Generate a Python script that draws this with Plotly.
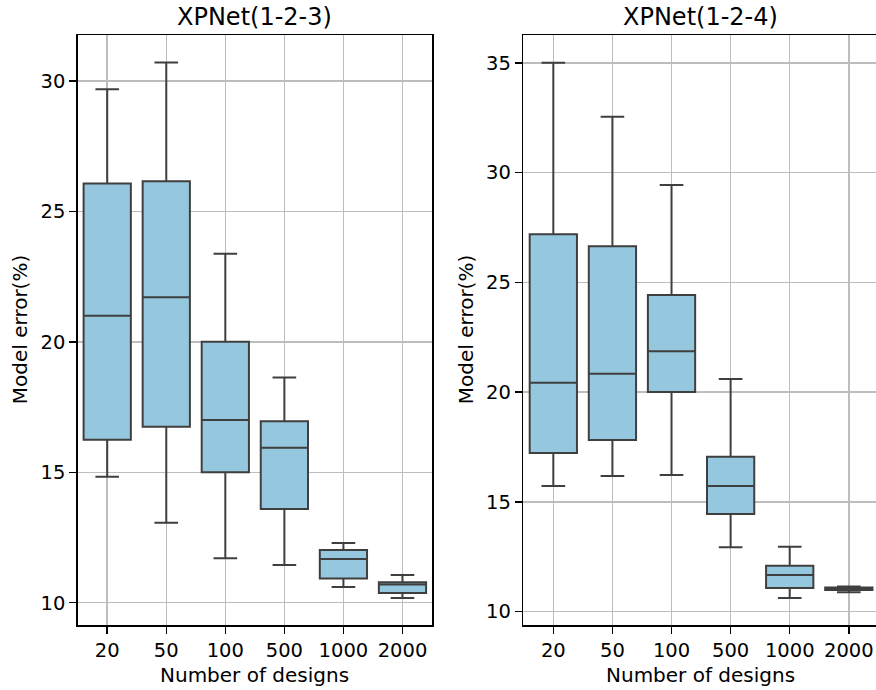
import plotly.graph_objects as go

categories = ["20", "50", "100", "500", "1000", "2000"]

# XPNet(1-2-3)
a_lower = [14.83, 13.07, 11.70, 11.45, 10.60, 10.18]
a_q1 = [16.25, 16.75, 15.00, 13.59, 10.93, 10.37]
a_median = [21.00, 21.71, 17.00, 15.94, 11.68, 10.70]
a_q3 = [26.07, 26.16, 20.00, 16.96, 12.02, 10.78]
a_upper = [29.69, 30.71, 23.38, 18.63, 12.29, 11.06]

# XPNet(1-2-4)
b_lower = [15.72, 16.18, 16.22, 12.93, 10.62, 10.88]
b_q1 = [17.23, 17.82, 20.00, 14.45, 11.07, 10.98]
b_median = [20.43, 20.84, 21.86, 15.72, 11.67, 11.04]
b_q3 = [27.19, 26.64, 24.42, 17.06, 12.09, 11.10]
b_upper = [35.00, 32.54, 29.43, 20.60, 12.96, 11.14]

titles = ["XPNet(1-2-3)", "XPNet(1-2-4)"]
x_label = "Number of designs"
y_label = "Model error(%)"

W, H = 876, 690
FILL = "#95C8DE"
LINE = "#3f3f3f"
FONT = "DejaVu Sans"

fig = go.Figure()

def add_box(lower, q1, med, q3, upper, xa, ya):
    fig.add_trace(go.Box(
        x=categories, lowerfence=lower, q1=q1, median=med, q3=q3, upperfence=upper,
        fillcolor=FILL, line=dict(color=LINE, width=2), width=0.8, whiskerwidth=0.5,
        boxpoints=False, xaxis=xa, yaxis=ya, hoverinfo="skip", showlegend=False,
    ))

add_box(a_lower, a_q1, a_median, a_q3, a_upper, "x", "y")
add_box(b_lower, b_q1, b_median, b_q3, b_upper, "x2", "y2")

px = lambda p: p / W
py = lambda p: 1 - p / H

top, bottom = 35.4, 625.0
ydom = [py(bottom), py(top)]

axis_common = dict(
    showline=True, linecolor="black", linewidth=1.5,
    ticks="outside", ticklen=7, tickwidth=1.5, tickcolor="black",
    showgrid=True, gridcolor="#bdbdbd", gridwidth=1.5,
    tickfont=dict(family=FONT, size=19.5, color="black"),
    zeroline=False, fixedrange=True,
)

fig.update_layout(
    width=W, height=H, margin=dict(l=0, r=0, t=0, b=0),
    paper_bgcolor="white", plot_bgcolor="white",
    font=dict(family=FONT, color="black"),
    xaxis=dict(domain=[px(77.7), px(432.0)], type="category", range=[-0.5, 5.5],
               mirror=True, anchor="y", **axis_common),
    yaxis=dict(domain=ydom, range=[9.145, 31.75], tickvals=[10, 15, 20, 25, 30],
               mirror=True, anchor="x", **axis_common),
    xaxis2=dict(domain=[px(523.3), 1.0], type="category", range=[-0.508, 5.46],
                mirror=True, anchor="y2", **axis_common),
    yaxis2=dict(domain=ydom, range=[9.39, 36.25], tickvals=[10, 15, 20, 25, 30, 35],
                mirror=False, anchor="x2", **axis_common),
)

ann = []
for i, (cx, ylx) in enumerate([(254.9, 20), (700.5, 466)]):
    ann.append(dict(text=titles[i], x=px(cx), y=py(17), xref="paper", yref="paper",
                    xanchor="center", yanchor="middle", showarrow=False,
                    font=dict(family=FONT, size=24, color="black")))
    ann.append(dict(text=x_label, x=px(cx), y=py(675), xref="paper", yref="paper",
                    xanchor="center", yanchor="middle", showarrow=False,
                    font=dict(family=FONT, size=20, color="black")))
    ann.append(dict(text=y_label, x=px(ylx), y=py((top + bottom) / 2), xref="paper", yref="paper",
                    xanchor="center", yanchor="middle", showarrow=False, textangle=-90,
                    font=dict(family=FONT, size=20, color="black")))
fig.update_layout(annotations=ann)

fig.write_html(
    "out.html",
    config={"displayModeBar": False, "staticPlot": True},
    post_script="document.body.style.margin='0';document.body.style.padding='0';document.body.style.overflow='hidden';",
)
